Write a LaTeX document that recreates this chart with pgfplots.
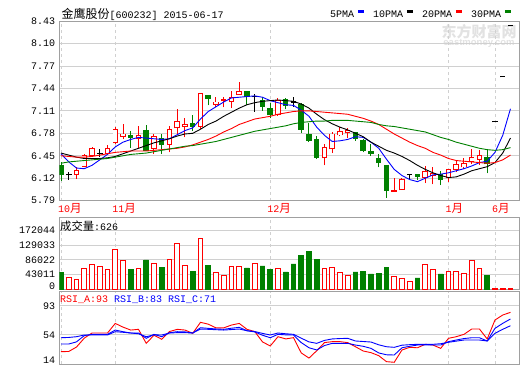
\documentclass[border=0pt]{standalone}
\usepackage{fontspec}
\setmainfont{Liberation Mono}
\newfontfamily\cjk{Noto Sans CJK SC}
\newfontfamily\lsans{Liberation Sans}
\usepackage{pgfplots}
\usepackage{pgfplotstable}
\pgfplotsset{compat=1.18}
\definecolor{cred}{RGB}{255,0,0}
\definecolor{cgreen}{RGB}{0,128,0}
\definecolor{cblue}{RGB}{0,0,255}
\definecolor{framec}{RGB}{160,160,160}
\definecolor{gridc}{RGB}{208,208,208}
\definecolor{wmc}{RGB}{226,226,226}
\newcommand\yue{{\cjk\fontsize{11.5}{12}\selectfont 月}}

\pgfplotstableread{
i o h l c
2 6.18 6.29 6.11 6.24
3 6.29 6.47 6.28 6.45
4 6.46 6.58 6.45 6.55
6 6.49 6.61 6.46 6.55
7 6.64 6.88 6.62 6.83
8 6.74 6.91 6.70 6.77
10 6.70 6.89 6.57 6.75
12 6.56 6.77 6.48 6.74
14 6.62 6.89 6.50 6.84
15 6.86 7.13 6.77 6.95
16 6.88 7.00 6.72 6.91
18 6.88 7.37 6.84 7.36
20 7.20 7.31 7.17 7.24
21 7.26 7.31 7.16 7.27
22 7.25 7.40 7.15 7.31
23 7.35 7.54 7.35 7.40
28 7.05 7.30 7.04 7.26
34 6.42 6.62 6.31 6.57
35 6.55 6.80 6.49 6.77
36 6.755 6.875 6.735 6.80
37 6.785 6.865 6.705 6.82
43 5.93 6.13 5.93 5.94
44 5.95 6.125 5.95 6.10
47 6.13 6.30 6.05 6.215
48 6.16 6.29 6.03 6.19
50 6.125 6.25 6.065 6.245
51 6.245 6.38 6.21 6.315
52 6.285 6.42 6.25 6.34
53 6.36 6.55 6.33 6.43
54 6.40 6.53 6.32 6.45
}\redc

\pgfplotstableread{
i o h l c
0 6.31 6.36 6.08 6.18
9 6.75 6.81 6.57 6.72
11 6.82 6.90 6.52 6.53
13 6.71 6.77 6.48 6.62
17 6.93 7.05 6.82 6.88
19 7.34 7.34 7.19 7.29
24 7.39 7.39 7.20 7.315
26 7.26 7.31 7.11 7.18
27 7.15 7.22 7.00 7.05
29 7.27 7.30 7.13 7.19
31 7.21 7.23 6.78 6.84
32 6.77 6.93 6.65 6.68
33 6.685 6.745 6.40 6.43
38 6.785 6.79 6.67 6.70
39 6.67 6.69 6.50 6.52
40 6.51 6.62 6.45 6.485
41 6.41 6.475 6.28 6.345
42 6.31 6.31 5.83 5.94
46 6.17 6.17 6.09 6.15
49 6.17 6.22 6.02 6.10
55 6.43 6.53 6.19 6.33
}\greenc

\pgfplotstableread{
i o h l c
1 6.17 6.21 6.10 6.17
5 6.49 6.55 6.43 6.49
25 7.32 7.355 7.10 7.32
30 7.24 7.32 7.17 7.24
45 6.17 6.17 6.10 6.17
56 6.95 6.95 6.95 6.95
57 7.61 7.61 7.61 7.61
58 8.36 8.36 8.36 8.36
}\dojic

\pgfplotstableread{
i v
1 34500
2 28600
3 61000
4 73800
5 67900
6 58000
7 117000
8 85600
10 60900
12 75800
14 87600
15 134800
16 69900
18 149600
20 49300
21 40400
22 67000
23 67000
25 75800
28 60900
34 60900
35 64000
36 50200
37 40400
43 37500
44 31600
45 22700
47 72900
48 58100
50 52200
51 52200
52 46300
53 84700
54 60900
56 1500
57 1200
58 626
}\volr

\pgfplotstableread{
i v
0 48100
9 59000
11 85600
13 64900
17 53100
19 70800
24 62000
26 67900
27 59000
29 50200
30 73800
31 100300
32 112100
33 88500
38 50200
39 53100
40 44300
41 47200
42 64900
46 32500
49 44300
55 41300
}\volg

\pgfplotsset{
  panel/.style={
    scale only axis, width=460pt, anchor=south west,
    xmin=-0.22, xmax=59.14,
    xtick={0,7,27,50,56},
    xmajorgrids, ymajorgrids,
    x grid style={gridc, dash pattern=on 3pt off 3pt, line width=0.8pt},
    y grid style={gridc, line width=0.8pt},
    axis line style={framec, line width=0.9pt},
    major tick length=0pt,
    tick style={draw=none},
    tick label style={font=\fontsize{10}{12}\selectfont},
    yticklabel style={anchor=east, inner sep=0pt, xshift=-4pt},
  },
  wick/.style={forget plot, draw=none, mark=none,
    error bars/.cd, y dir=plus, y explicit, error mark=none,
    error bar style={draw=#1, line width=1pt}},
  body/.style n args={2}{forget plot, draw=none, mark=none,
    error bars/.cd, y dir=plus, y explicit, error mark=none,
    error bar style={draw=#1, line width=#2}},
}

\begin{document}
\begin{tikzpicture}[font=\fontsize{10}{12}\selectfont]
\path[use as bounding box] (0,0) rectangle (520pt,365pt);

% watermark
\node[text=wmc, inner sep=0pt] at (479pt,333.3pt) {\cjk\bfseries\fontsize{15}{15}\selectfont 东方财富网};
\node[text=wmc, inner sep=0pt] at (479pt,321.7pt) {\lsans\bfseries\fontsize{9.5}{10}\selectfont eastmoney.com};

% ---------------- price panel ----------------
\begin{axis}[panel, at={(59.3pt,164.3pt)}, height=179.7pt,
  ymin=5.79, ymax=8.43,
  ytick={5.79,6.12,6.45,6.78,7.11,7.44,7.77,8.10,8.43},
  yticklabels={5.79,6.12,6.45,6.78,7.11,7.44,7.77,8.10,8.43},
  xticklabels={10\yue,11\yue,12\yue,1\yue,6\yue},
  xticklabel style={anchor=north west, inner sep=0pt, xshift=-3pt, yshift=-2.5pt, text=cred},
  legend plot pos=right,
  legend image code/.code={\draw[#1, line width=2.5pt] (0pt,3pt) -- (6pt,3pt);},
  legend style={at={(axis description cs:0.985,1)}, anchor=south east, yshift=2pt,
    draw=none, fill=none, inner sep=0pt, legend columns=-1,
    font=\fontsize{10}{12}\selectfont, nodes={inner sep=0pt},
    /tikz/every odd column/.append style={column sep=2.5pt},
    /tikz/every even column/.append style={column sep=8pt}},
]
% wicks
\addplot[wick=cred] table[x=i, y=l, y error plus expr=\thisrow{h}-\thisrow{l}] {\redc};
\addplot[wick=cgreen] table[x=i, y=l, y error plus expr=\thisrow{h}-\thisrow{l}] {\greenc};
\addplot[wick=black] table[x=i, y=l, y error plus expr=\thisrow{h}-\thisrow{l}] {\dojic};
% bodies
\addplot[body={cred}{5.5pt}] table[x=i, y expr=\thisrow{o}-0.007, y error plus expr=\thisrow{c}-\thisrow{o}+0.014] {\redc};
\addplot[body={white}{3.6pt}] table[x=i, y expr=\thisrow{o}+0.007, y error plus expr={max(\thisrow{c}-\thisrow{o}-0.014,0)}] {\redc};
\addplot[body={cgreen}{5.5pt}] table[x=i, y expr=\thisrow{c}-0.007, y error plus expr=\thisrow{o}-\thisrow{c}+0.014] {\greenc};
\addplot[body={black}{5.5pt}] table[x=i, y expr=\thisrow{o}-0.0075, y error plus expr=0.015] {\dojic};
% moving averages
\addplot[cblue, line width=0.9pt] coordinates {(0,6.48)(1,6.36)(2,6.27)(3,6.26)(4,6.31)(5,6.39)(6,6.47)(7,6.58)(8,6.65)(9,6.69)(10,6.72)(11,6.71)(12,6.70)(13,6.69)(14,6.70)(15,6.76)(16,6.82)(17,6.86)(18,6.99)(19,7.10)(20,7.17)(21,7.24)(22,7.30)(23,7.31)(24,7.32)(25,7.33)(26,7.31)(27,7.26)(28,7.23)(29,7.20)(30,7.19)(31,7.12)(32,7.03)(33,6.87)(34,6.75)(35,6.66)(36,6.67)(37,6.69)(38,6.73)(39,6.72)(40,6.65)(41,6.56)(42,6.40)(43,6.25)(44,6.16)(45,6.10)(46,6.07)(47,6.12)(48,6.17)(49,6.18)(50,6.20)(51,6.23)(52,6.26)(53,6.30)(54,6.35)(55,6.37)(56,6.50)(57,6.75)(58,7.14)};
\addlegendentry{5PMA}
\addplot[black, line width=0.9pt] coordinates {(0,6.49)(1,6.46)(2,6.43)(3,6.41)(4,6.41)(5,6.41)(6,6.42)(7,6.44)(8,6.48)(9,6.52)(10,6.56)(11,6.60)(12,6.64)(13,6.67)(14,6.70)(15,6.74)(16,6.77)(17,6.78)(18,6.84)(19,6.91)(20,6.96)(21,7.03)(22,7.09)(23,7.15)(24,7.20)(25,7.23)(26,7.25)(27,7.26)(28,7.27)(29,7.26)(30,7.25)(31,7.21)(32,7.15)(33,7.06)(34,6.98)(35,6.92)(36,6.87)(37,6.83)(38,6.78)(39,6.73)(40,6.65)(41,6.59)(42,6.53)(43,6.49)(44,6.44)(45,6.38)(46,6.31)(47,6.25)(48,6.20)(49,6.16)(50,6.13)(51,6.14)(52,6.18)(53,6.23)(54,6.26)(55,6.29)(56,6.35)(57,6.49)(58,6.71)};
\addlegendentry{10PMA}
\addplot[cred, line width=0.9pt] coordinates {(0,6.45)(1,6.44)(2,6.43)(3,6.43)(4,6.44)(5,6.46)(6,6.48)(7,6.50)(8,6.51)(9,6.52)(10,6.52)(11,6.52)(12,6.53)(13,6.54)(14,6.55)(15,6.56)(16,6.58)(17,6.61)(18,6.65)(19,6.69)(20,6.74)(21,6.80)(22,6.85)(23,6.91)(24,6.95)(25,6.99)(26,7.01)(27,7.03)(28,7.06)(29,7.08)(30,7.10)(31,7.11)(32,7.11)(33,7.10)(34,7.09)(35,7.08)(36,7.07)(37,7.06)(38,7.03)(39,7.00)(40,6.96)(41,6.91)(42,6.84)(43,6.77)(44,6.71)(45,6.65)(46,6.60)(47,6.56)(48,6.50)(49,6.46)(50,6.41)(51,6.38)(52,6.37)(53,6.36)(54,6.35)(55,6.34)(56,6.35)(57,6.39)(58,6.46)};
\addlegendentry{20PMA}
\addplot[cgreen, line width=0.9pt] coordinates {(0,6.34)(1,6.36)(2,6.37)(3,6.38)(4,6.39)(5,6.40)(6,6.41)(7,6.43)(8,6.45)(9,6.47)(10,6.48)(11,6.49)(12,6.51)(13,6.53)(14,6.55)(15,6.57)(16,6.59)(17,6.60)(18,6.62)(19,6.64)(20,6.66)(21,6.69)(22,6.72)(23,6.75)(24,6.78)(25,6.81)(26,6.83)(27,6.85)(28,6.87)(29,6.89)(30,6.92)(31,6.94)(32,6.95)(33,6.96)(34,6.96)(35,6.97)(36,6.97)(37,6.97)(38,6.96)(39,6.95)(40,6.94)(41,6.91)(42,6.89)(43,6.88)(44,6.86)(45,6.84)(46,6.82)(47,6.80)(48,6.76)(49,6.72)(50,6.69)(51,6.65)(52,6.62)(53,6.59)(54,6.56)(55,6.54)(56,6.53)(57,6.54)(58,6.57)};
\addlegendentry{30PMA}
\end{axis}

% ---------------- volume panel ----------------
\begin{axis}[panel, at={(59.3pt,76pt)}, height=72pt,
  ymin=0, ymax=212470, scaled y ticks=false,
  ytick={43011,86022,129033,172044},
  yticklabels={43011,86022,129033,172044},
  extra y ticks={8850}, extra y tick labels={0}, extra y tick style={grid=none},
  xticklabels={},
]
\addplot[ybar, bar width=4.8pt, bar shift=0pt, draw=cred, fill=white, line width=0.9pt] table[x=i, y=v] {\volr};
\addplot[ybar, bar width=4.8pt, bar shift=0pt, draw=cgreen, fill=cgreen, line width=0.9pt] table[x=i, y=v] {\volg};
\end{axis}

% ---------------- RSI panel ----------------
\begin{axis}[panel, at={(59.3pt,1pt)}, height=72.3pt,
  ymin=14, ymax=112,
  ytick={53.5,93}, yticklabels={54,93},
  extra y ticks={19.4}, extra y tick labels={14}, extra y tick style={grid=none},
  xticklabels={},
]
\addplot[cred, line width=0.9pt] coordinates {(0,30.7)(1,31)(2,37)(3,49)(4,56)(5,56)(6,56)(7,69)(8,64)(9,60)(10,61)(11,42)(12,53)(13,47.5)(14,58)(15,61)(16,60)(17,55.6)(18,70.5)(19,68)(20,63)(21,63)(22,66.8)(23,69)(24,61)(25,58)(26,44)(27,38.4)(28,51)(29,48)(30,49.7)(31,29)(32,22)(33,32)(34,43)(35,44.3)(36,44.3)(37,43)(38,37.4)(39,31.6)(40,29.4)(41,25.3)(42,17.2)(43,16.3)(44,33)(45,36.6)(46,36)(47,40.7)(48,39.7)(49,35.2)(50,48.8)(51,51)(52,54.2)(53,61.4)(54,61.4)(55,47.9)(56,73.6)(57,80.4)(58,84)};
\addplot[cblue, line width=0.9pt] coordinates {(0,41.1)(1,41.1)(2,44)(3,52.4)(4,54.2)(5,54.2)(6,54.2)(7,60)(8,57.8)(9,56)(10,56)(11,48.8)(12,54.2)(13,51)(14,56.4)(15,57.8)(16,57.5)(17,56)(18,63.2)(19,62.3)(20,61.5)(21,61)(22,62.5)(23,63.7)(24,59.1)(25,57.5)(26,53)(27,49.6)(28,54.2)(29,53.5)(30,53.3)(31,43)(32,36)(33,33)(34,39)(35,42)(36,42)(37,42)(38,39.7)(39,38)(40,35.2)(41,29)(42,26.5)(43,26.2)(44,36)(45,38)(46,39.7)(47,39.7)(48,39.7)(49,39.7)(50,44.3)(51,46.5)(52,48.5)(53,49.6)(54,49.6)(55,45.2)(56,62.3)(57,69.1)(58,75)};
\addplot[cblue, line width=0.9pt] coordinates {(0,49.6)(1,50)(2,51)(3,53.3)(4,53.3)(5,53.3)(6,53.3)(7,57.8)(8,57)(9,56)(10,55)(11,51)(12,53.5)(13,53.3)(14,56)(15,56.5)(16,56.5)(17,56)(18,61.4)(19,61)(20,60.5)(21,60)(22,60.7)(23,61.4)(24,59.1)(25,58)(26,55.5)(27,53.3)(28,56)(29,55)(30,54.2)(31,49)(32,44)(33,42)(34,46)(35,48)(36,48.5)(37,48.8)(38,45.2)(39,44.5)(40,43.8)(41,40)(42,37.4)(43,36.6)(44,39.5)(45,40.2)(46,40.7)(47,40.7)(48,40.7)(49,41.5)(50,43.4)(51,45)(52,46.5)(53,46.5)(54,46.5)(55,45.2)(56,55.6)(57,61)(58,65.9)};
\end{axis}

% titles
\node[anchor=west, inner sep=0pt] at (61.5pt,350.5pt) {{\cjk\fontsize{12}{12}\selectfont 金鹰股份}[600232] 2015-06-17};
\node[anchor=west, inner sep=0pt] at (60pt,139pt) {{\cjk\fontsize{11.3}{12}\selectfont 成交量}:626};
\node[anchor=west, inner sep=0pt] at (60pt,65pt) {\textcolor{cred}{RSI\_A:93} \textcolor{cblue}{RSI\_B:83} \textcolor{cblue}{RSI\_C:71}};
\end{tikzpicture}
\end{document}
